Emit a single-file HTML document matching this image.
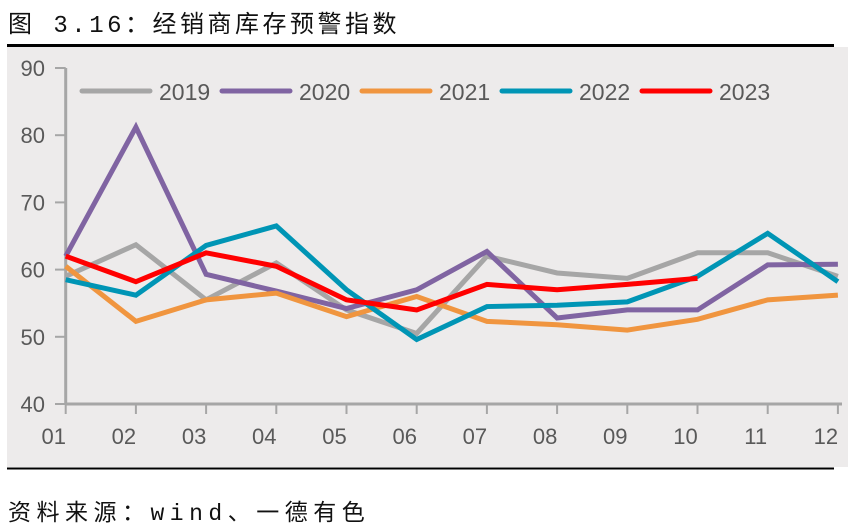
<!DOCTYPE html>
<html><head><meta charset="utf-8"><style>
body{margin:0;width:854px;height:529px;background:#fff;overflow:hidden;font-family:"Liberation Sans","Noto Sans CJK SC",sans-serif}
.t{position:absolute;left:8px;top:4px;font-size:24px;color:#111;letter-spacing:3.5px;font-family:"Liberation Mono","Noto Sans CJK SC",monospace}
.s{position:absolute;left:8px;top:493px;font-size:23px;color:#111;letter-spacing:5.5px;font-family:"Liberation Mono","Noto Sans CJK SC",monospace}
</style></head><body>
<div class="t">图 3.16：经销商库存预警指数</div>
<svg width="854" height="529" style="position:absolute;left:0;top:0" id="c">
<rect x="7" y="47" width="841" height="420" fill="#edebeb"/>
<line x1="7" y1="45.5" x2="834" y2="45.5" stroke="#000" stroke-width="3"/>
<line x1="7" y1="468.5" x2="834" y2="468.5" stroke="#000" stroke-width="2"/>
<g id="g"></g>
</svg>
<div class="s">资料来源：wind、一德有色</div>
<script>
const months=["01","02","03","04","05","06","07","08","09","10","11","12"];
const yTicks=[40,50,60,70,80,90];
const seriesNames=["2019","2020","2021","2022","2023"];
const s2019=[59,63.7,55.5,61,54,50.5,62,59.5,58.7,62.5,62.5,59];
const s2020=[62,81.2,59.3,56.8,54.2,57,62.7,52.8,54,54,60.7,60.8];
const s2021=[60.5,52.3,55.5,56.5,53,56,52.3,51.8,51,52.6,55.5,56.2];
const s2022=[58.5,56.2,63.6,66.5,57,49.6,54.5,54.7,55.2,59,65.4,58.2];
const s2023=[62,58.2,62.5,60.5,55.5,54,57.8,57,57.8,58.7];
const colors=["#a6a6a6","#8064a2","#f0953f","#0095b5","#ff0000"];
const all=[s2019,s2020,s2021,s2022,s2023];
const X=i=>65.7+i*70.2;
const Y=v=>404-(v-40)*6.72;
const NS="http://www.w3.org/2000/svg";
const g=document.getElementById('g');
function mk(t,a){const e=document.createElementNS(NS,t);for(const k in a)e.setAttribute(k,a[k]);g.appendChild(e);return e;}
let e=mk('line',{x1:65.7,y1:Y(90),x2:65.7,y2:Y(40),stroke:'#a6a6a6','stroke-width':3});


e=mk('line',{x1:65.7,y1:Y(40),x2:842,y2:Y(40),stroke:'#a6a6a6','stroke-width':3});


yTicks.forEach(v=>{
 const l=mk('line',{x1:55,y1:Y(v),x2:65.7,y2:Y(v),stroke:'#a6a6a6','stroke-width':2});
 
 
 const t=mk('text',{x:45,y:Y(v)+8,'text-anchor':'end','font-size':22,fill:'#595959'});
 t.textContent=v;
 
 
});
months.forEach((m,i)=>{
 const l=mk('line',{x1:X(i),y1:Y(40),x2:X(i),y2:Y(40)+10,stroke:'#a6a6a6','stroke-width':2});
 
 
 const t=mk('text',{x:Math.min(X(i)-12,832),y:444,'text-anchor':'middle','font-size':22,fill:'#595959'});
 t.textContent=m;
 
 
});
all.forEach((s,k)=>{
 const p=mk('polyline',{points:s.map((v,i)=>X(i)+','+Y(v)).join(' '),fill:'none',stroke:colors[k],'stroke-width':5,'stroke-linejoin':'miter'});
 
 
 const lx=82+k*140;
 const ll=mk('line',{x1:lx,y1:91,x2:lx+68,y2:91,stroke:colors[k],'stroke-width':5,'stroke-linecap':'round'});
 
 
 const lt=mk('text',{x:lx+77,y:100,'font-size':23,fill:'#595959'});
 lt.textContent=seriesNames[k];
 
 
});
</script>
</body></html>
